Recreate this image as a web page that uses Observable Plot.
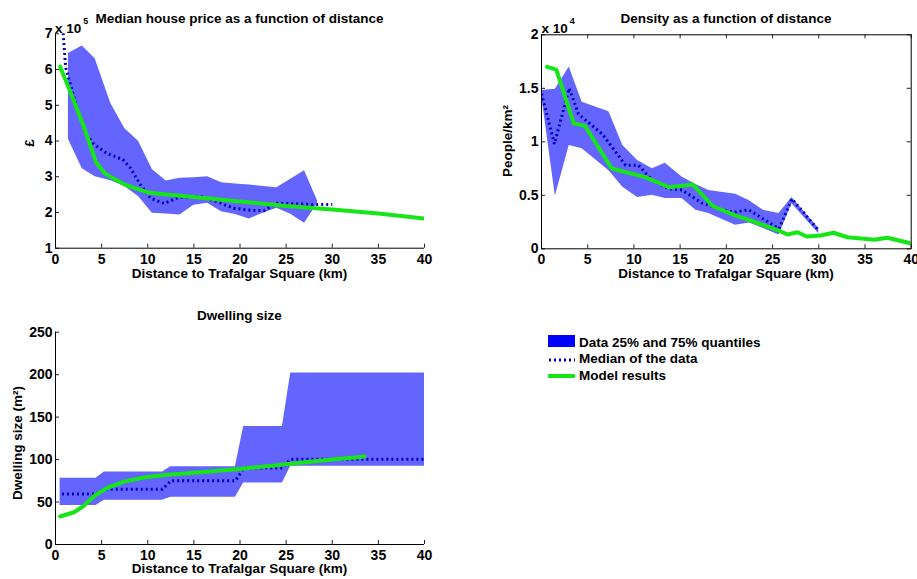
<!DOCTYPE html>
<html>
<head>
<meta charset="utf-8">
<script src="https://cdn.jsdelivr.net/npm/d3@7"></script>
<script src="https://cdn.jsdelivr.net/npm/@observablehq/plot@0.6"></script>
<style>
  html, body { margin: 0; padding: 0; background: #fff; overflow: hidden; }
  #root { position: relative; width: 917px; height: 579px; font-family: "Liberation Sans", Arial, sans-serif; font-weight: bold; color: #000; }
  .abs { position: absolute; white-space: nowrap; line-height: 1; }
  .t13 { font-size: 13.5px; }
  .c { transform: translate(-50%, -50%); }
  .rot { transform: translate(-50%, -50%) rotate(-90deg); }
  .panel { position: absolute; }
</style>
</head>
<body>
<div id="root"></div>
<script>
// ---------- data ----------
const xTicks = [0, 5, 10, 15, 20, 25, 30, 35, 40];

// Panel 1: median house price, values in units of 10^5 £
const priceBandDist = [1.4, 2.9, 4.3, 6.0, 7.5, 9.0, 10.5, 12.0, 13.5, 15.0, 16.5, 18.0, 19.5, 21.0, 22.5, 24.0, 25.5, 27.0, 28.4];
const priceQ75 = [6.45, 6.66, 6.30, 5.05, 4.35, 3.99, 3.20, 2.88, 2.96, 2.97, 3.00, 2.83, 2.80, 2.77, 2.73, 2.69, 2.93, 3.17, 2.33];
const priceQ25 = [4.05, 3.22, 3.00, 2.89, 2.73, 2.45, 1.98, 1.96, 1.93, 2.20, 2.26, 2.02, 1.94, 1.82, 1.98, 2.12, 1.95, 1.70, 2.25];
const priceMedDist = [0.75, 1.1, 2.3, 3.3, 4.2, 5.6, 7.3, 8.1, 9.2, 10.3, 11.8, 13.3, 15.7, 17.5, 19.3, 21.1, 22.6, 23.9, 28.4, 30.0];
const priceMed = [7.3, 6.05, 4.95, 4.2, 3.9, 3.65, 3.48, 3.25, 2.78, 2.4, 2.25, 2.42, 2.45, 2.3, 2.12, 2.06, 2.05, 2.26, 2.22, 2.22];
const priceModelDist = [0.5, 1.5, 3.0, 4.4, 5.4, 7.5, 10.0, 12.0, 15.0, 20.0, 25.0, 30.0, 35.0, 40.0];
const priceModel = [6.08, 5.45, 4.45, 3.4, 3.08, 2.78, 2.56, 2.5, 2.43, 2.31, 2.18, 2.08, 1.97, 1.83];
const priceYTicks = [1, 2, 3, 4, 5, 6, 7];

// Panel 2: density, values in units of 10^4 people/km²
const densBandDist = [0, 1.5, 3.0, 4.4, 7.3, 8.8, 10.4, 12.0, 13.4, 15.2, 16.7, 18.1, 21.0, 22.5, 24.0, 25.7, 27.1, 30.0];
const densQ75 = [1.48, 1.49, 1.70, 1.37, 1.28, 0.965, 0.825, 0.748, 0.80, 0.67, 0.60, 0.545, 0.51, 0.45, 0.36, 0.33, 0.48, 0.19];
const densQ25 = [1.44, 0.49, 0.965, 0.935, 0.73, 0.576, 0.48, 0.50, 0.47, 0.47, 0.36, 0.33, 0.22, 0.24, 0.19, 0.13, 0.42, 0.14];
const densMedDist = [0, 1.4, 3.0, 4.0, 6.6, 9.1, 10.5, 12.0, 13.8, 15.2, 17.3, 19.4, 20.8, 22.4, 25.7, 27.1, 30.0];
const densMed = [1.45, 0.98, 1.50, 1.26, 1.07, 0.78, 0.78, 0.64, 0.56, 0.55, 0.43, 0.37, 0.34, 0.365, 0.187, 0.467, 0.17];
const densModelDist = [0.6, 1.6, 3.5, 4.7, 7.6, 11.2, 13.8, 16.4, 18.5, 21.0, 22.6, 25.7, 26.6, 27.7, 28.7, 30.2, 31.6, 33.1, 34.9, 36.0, 37.4, 40.0];
const densModel = [1.70, 1.675, 1.17, 1.15, 0.75, 0.67, 0.575, 0.60, 0.40, 0.31, 0.265, 0.17, 0.134, 0.155, 0.115, 0.124, 0.15, 0.108, 0.093, 0.084, 0.103, 0.05];
const densYTicks = [0, 0.5, 1, 1.5, 2];

// Panel 3: dwelling size (m²)
const dwellBandDist = [0.5, 4.4, 5.3, 11.6, 12.5, 19.5, 20.4, 24.6, 25.5, 40];
const dwellQ75 = [78, 78, 85.5, 85.5, 91.5, 91.5, 139, 139, 202, 202];
const dwellQ25 = [46, 46, 52, 52, 55.5, 55.5, 72.5, 72.5, 92, 92];
const dwellMedDist = [0.7, 4.4, 5.3, 11.6, 12.5, 19.5, 20.4, 24.6, 25.5, 40];
const dwellMed = [59.5, 59.5, 65, 65, 75, 75, 90, 90, 100.5, 100.5];
const dwellModelDist = [0.5, 2.0, 3.0, 4.3, 5.5, 7.4, 9.9, 12.5, 15.7, 20.0, 25.0, 30.0, 33.5];
const dwellModel = [33, 38, 45, 58, 66, 74, 79.5, 82.5, 85, 89, 94.5, 100, 103.5];
const dwellYTicks = [0, 50, 100, 150, 200, 250];

// ---------- styles ----------
const BAND = "#6464ff";
const MED = "#0000c8";
const MODEL = "#16e616";
const FONT = "'Liberation Sans', Arial, sans-serif";

const zip2 = (xs, ys) => xs.map((d, i) => ({d, v: ys[i]}));
const zip3 = (xs, lo, hi) => xs.map((d, i) => ({d, lo: lo[i], hi: hi[i]}));

function panel(o) {
  const fw = o.width - o.ml - o.mr, fh = o.height - o.mt - o.mb;
  const marks = [
    Plot.areaY(zip3(o.bandX, o.lo, o.hi), {x: "d", y1: "lo", y2: "hi", fill: BAND, fillOpacity: 1, clip: true}),
    Plot.line(zip2(o.medX, o.med), {x: "d", y: "v", stroke: MED, strokeWidth: 3, strokeDasharray: "2,3", strokeLinecap: "butt", strokeLinejoin: "miter", clip: true}),
    Plot.line(zip2(o.modX, o.mod), {x: "d", y: "v", stroke: MODEL, strokeWidth: 4, clip: true}),
    Plot.axisX({ticks: xTicks, tickSize: 0, tickPadding: 5.5, tickFormat: d => String(d), fontSize: 14, fontWeight: "bold", label: null}),
    Plot.axisY({ticks: o.yTicks, tickSize: 0, tickPadding: 3, tickFormat: d => String(d), fontSize: 14, fontWeight: "bold", label: null}),
    Plot.ruleX(xTicks, {stroke: "#222", insetTop: fh - 4}),
    Plot.ruleY(o.yTicks, {stroke: "#222", insetRight: fw - 4})
  ];
  if (o.box) {
    marks.push(Plot.ruleX(xTicks, {stroke: "#222", insetBottom: fh - 4}));
    marks.push(Plot.ruleY(o.yTicks, {stroke: "#222", insetLeft: fw - 4}));
    marks.push(Plot.frame({stroke: "#000", strokeWidth: 1}));
  } else {
    marks.push(Plot.ruleX([0], {stroke: "#000", strokeWidth: 1}));
    marks.push(Plot.ruleY([o.yDomain[0]], {stroke: "#000", strokeWidth: 1}));
  }
  const svg = Plot.plot({
    width: o.width, height: o.height,
    marginLeft: o.ml, marginRight: o.mr, marginTop: o.mt, marginBottom: o.mb,
    x: {domain: [0, 40], label: null},
    y: {domain: o.yDomain, label: null},
    style: {fontFamily: FONT, fontWeight: "bold", fontSize: "14px", color: "#000", background: "transparent", overflow: "visible", maxWidth: "none"},
    marks
  });
  svg.classList.add("panel");
  svg.style.left = o.left + "px";
  svg.style.top = o.top + "px";
  return svg;
}

const root = document.getElementById("root");

root.appendChild(panel({
  left: 0, top: 0, width: 460, height: 290, ml: 55, mr: 36, mt: 33.3, mb: 42.3,
  bandX: priceBandDist, lo: priceQ25, hi: priceQ75,
  medX: priceMedDist, med: priceMed, modX: priceModelDist, mod: priceModel,
  yDomain: [1, 7], yTicks: priceYTicks, box: false
}));
root.appendChild(panel({
  left: 460, top: 0, width: 457, height: 290, ml: 81, mr: 6.3, mt: 34.3, mb: 41.7,
  bandX: densBandDist, lo: densQ25, hi: densQ75,
  medX: densMedDist, med: densMed, modX: densModelDist, mod: densModel,
  yDomain: [0, 2], yTicks: densYTicks, box: true
}));
root.appendChild(panel({
  left: 0, top: 290, width: 460, height: 289, ml: 55, mr: 36, mt: 41.7, mb: 35,
  bandX: dwellBandDist, lo: dwellQ25, hi: dwellQ75,
  medX: dwellMedDist, med: dwellMed, modX: dwellModelDist, mod: dwellModel,
  yDomain: [0, 250], yTicks: dwellYTicks, box: false
}));

// ---------- text ----------
const texts = [
  {t: "Median house price as a function of distance", x: 239.5, y: 19, cls: "c t13"},
  {t: "Density as a function of distance", x: 726, y: 19, cls: "c t13"},
  {t: "Dwelling size", x: 239.5, y: 316, cls: "c t13"},
  {t: "Distance to Trafalgar Square (km)", x: 239.5, y: 273.5, cls: "c t13"},
  {t: "Distance to Trafalgar Square (km)", x: 726, y: 273.5, cls: "c t13"},
  {t: "Distance to Trafalgar Square (km)", x: 239.5, y: 569, cls: "c t13"},
  {t: "£", x: 30, y: 143, cls: "rot t13"},
  {t: "People/km²", x: 508, y: 141, cls: "rot t13"},
  {t: "Dwelling size (m²)", x: 18, y: 443, cls: "rot t13"}
];
for (const s of texts) {
  const el = document.createElement("div");
  el.className = "abs " + s.cls;
  el.style.left = s.x + "px";
  el.style.top = s.y + "px";
  el.textContent = s.t;
  root.appendChild(el);
}
// scale multipliers
function mult(x, exp) {
  const el = document.createElement("div");
  el.className = "abs";
  el.style.left = x + "px";
  el.style.top = "20px";
  el.style.fontSize = "13.5px";
  el.innerHTML = "x 10<sup style='font-size:9px;position:relative;top:-3px;margin-left:2px'>" + exp + "</sup>";
  root.appendChild(el);
}
mult(55, "5");
mult(541.5, "4");

// legend
const legendItems = ["Data 25% and 75% quantiles", "Median of the data", "Model results"];
const legend = document.createElement("div");
legend.className = "abs";
legend.style.left = "548px";
legend.style.top = "334px";
legend.innerHTML = `
<svg width="30" height="50" style="position:absolute;left:0;top:0;overflow:visible">
  <rect x="0" y="1" width="27" height="12" fill="#0000ff"></rect>
  <line x1="1" x2="27" y1="26" y2="26" stroke="${MED}" stroke-width="3" stroke-dasharray="2,3"></line>
  <line x1="0" x2="27" y1="42" y2="42" stroke="${MODEL}" stroke-width="4"></line>
</svg>`;
legendItems.forEach((t, i) => {
  const el = document.createElement("div");
  el.className = "abs t13";
  el.style.left = "31px";
  el.style.top = (i * 16.6 + 1.5) + "px";
  el.textContent = t;
  legend.appendChild(el);
});
root.appendChild(legend);
</script>
</body>
</html>
